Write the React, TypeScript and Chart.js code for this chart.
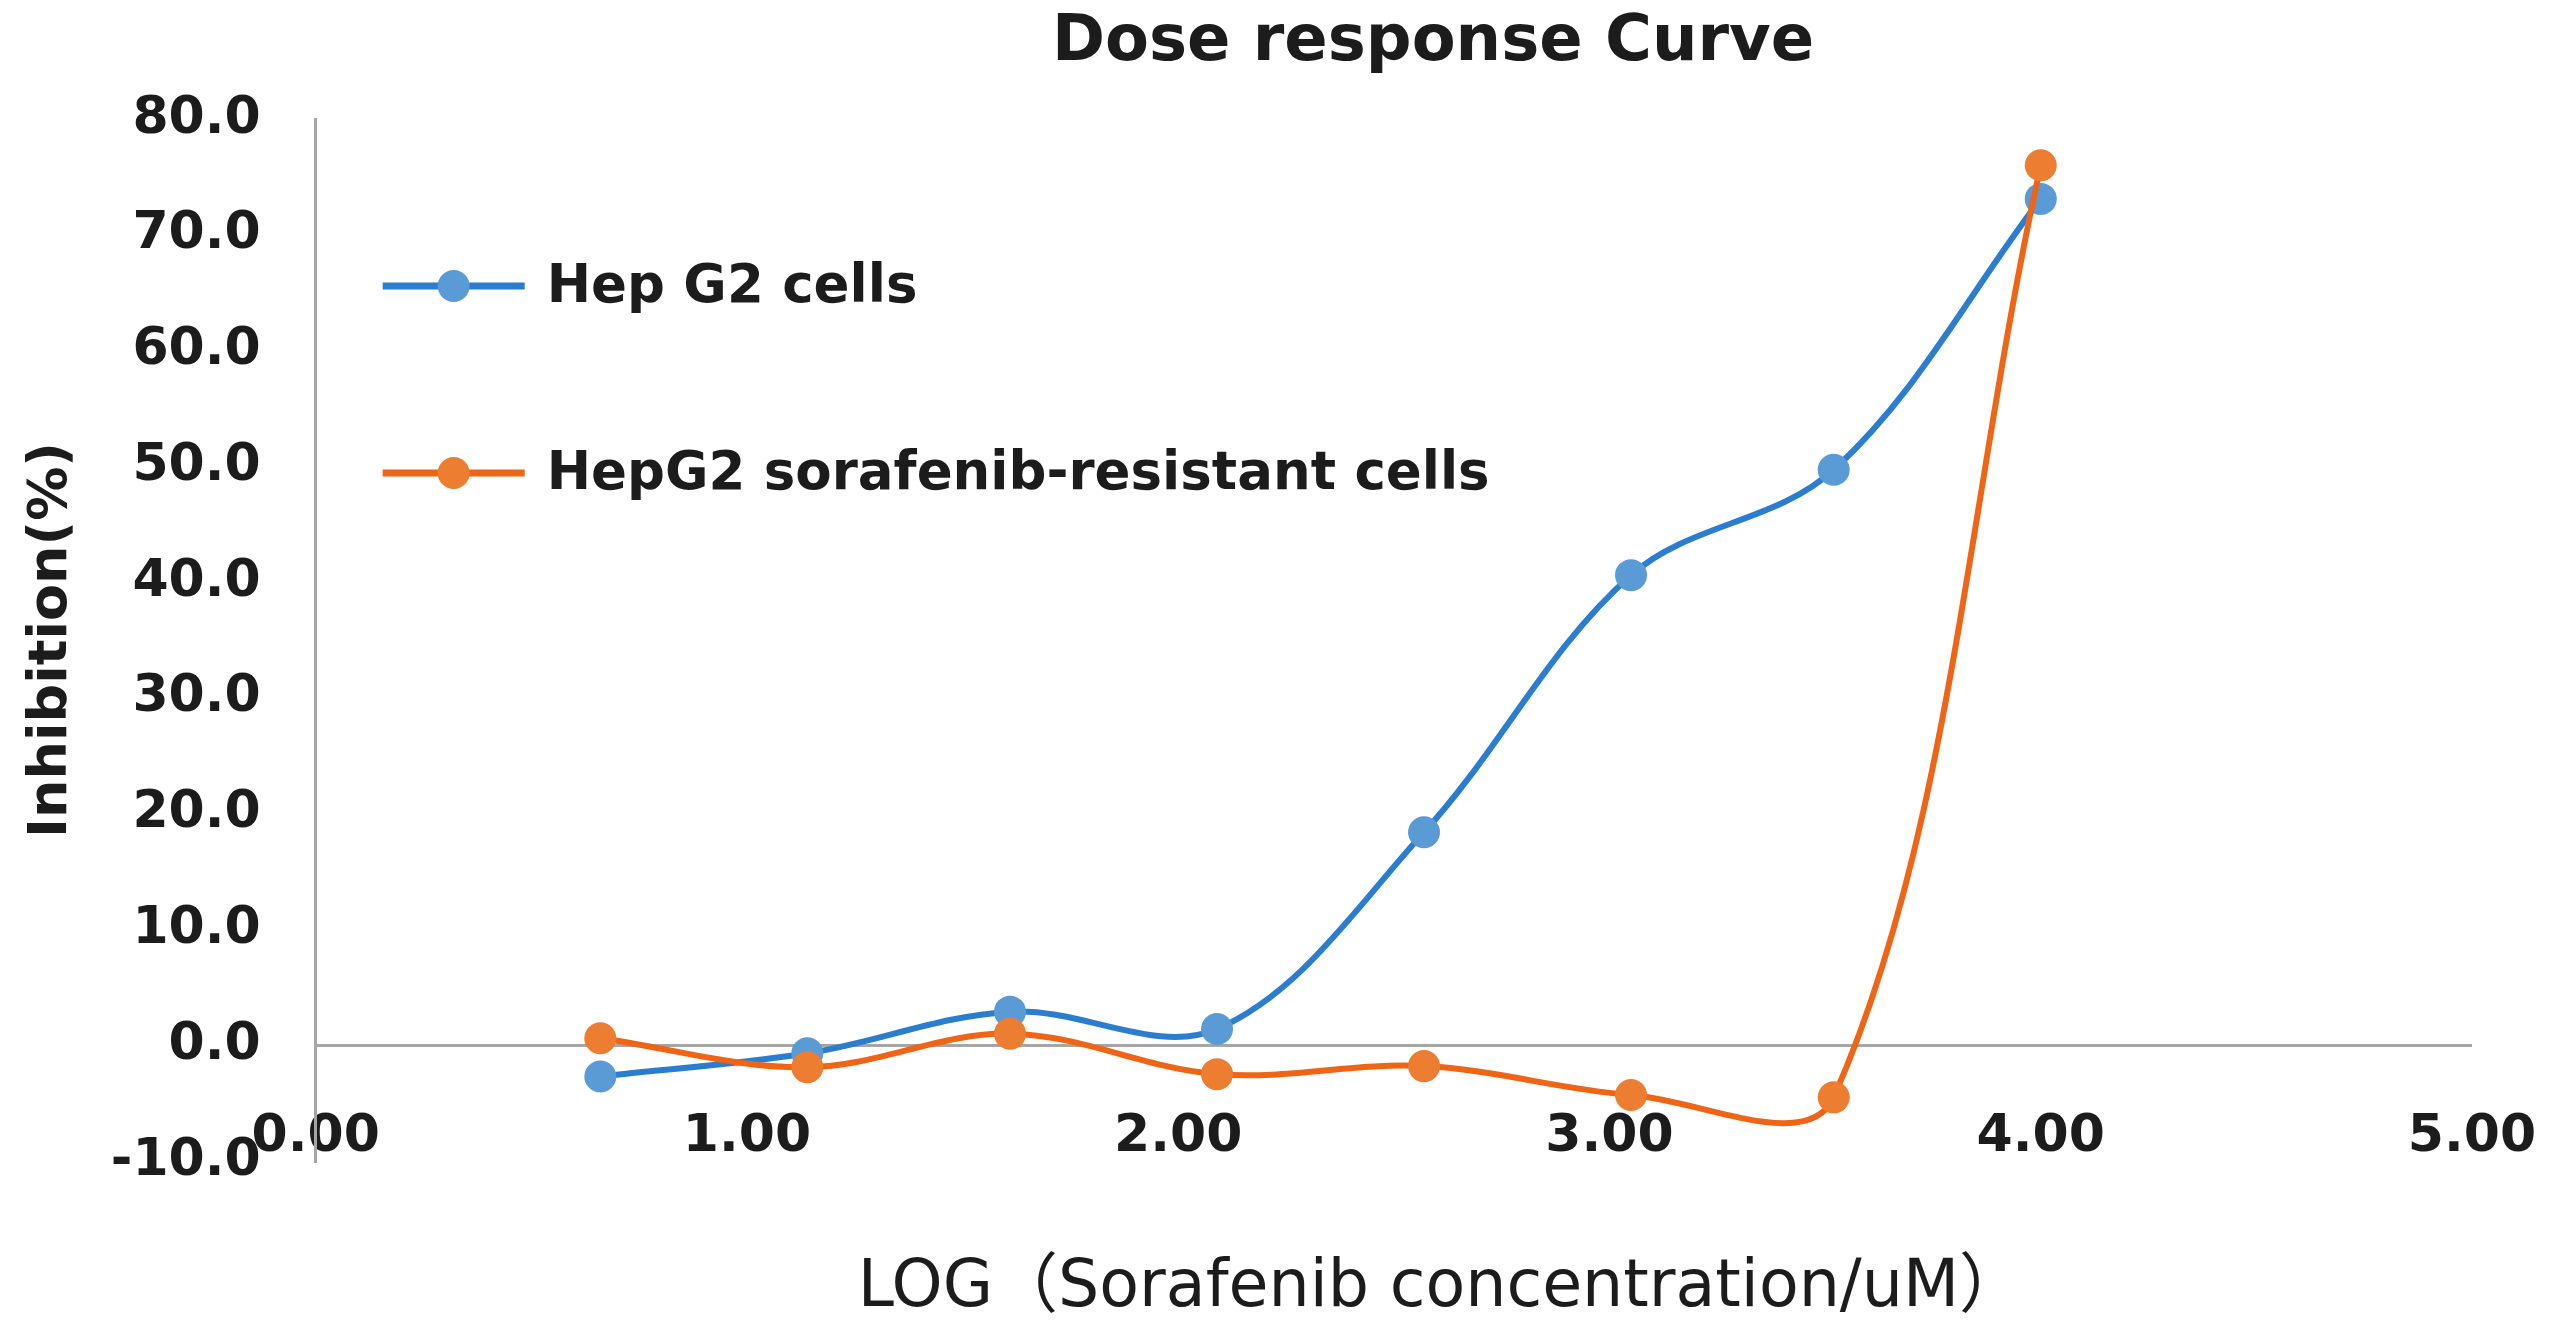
import { useEffect, useRef } from "react"
import { Chart, registerables } from "chart.js"

Chart.register(...registerables)

// log10 of sorafenib concentration (uM), one entry per dose
const logConc = [0.66, 1.14, 1.61, 2.09, 2.57, 3.05, 3.52, 4.0]
// inhibition (%) per dose
const hepG2 = [-2.7, -0.7, 2.9, 1.4, 18.4, 40.6, 49.7, 73.1]
const resistant = [0.6, -1.9, 1.0, -2.5, -1.8, -4.3, -4.5, 76.0]

const seriesNames = ["Hep G2 cells", "HepG2 sorafenib-resistant cells"]
const lineColors = ["#2B7DD0", "#EF6515"]
const markerColors = ["#5B9BD5", "#ED7D31"]

const FONT = "'DejaVu Sans', 'Noto Sans CJK SC', sans-serif"
const TEXT = "#1c1c1c"

// chart title, x-axis title and the in-plot legend, placed like the Excel original
const overlay = {
  id: "overlay",
  afterDatasetsDraw(chart: Chart) {
    const { ctx, chartArea } = chart
    ctx.save()
    ctx.fillStyle = TEXT
    ctx.textAlign = "center"
    ctx.textBaseline = "middle"
    ctx.font = `bold 64px ${FONT}`
    ctx.fillText("Dose response Curve", chart.width * 0.56, 43)

    ctx.font = `65px ${FONT}`
    const midX = (chartArea.left + chartArea.right) / 2
    ctx.fillText("LOG（Sorafenib concentration/uM）", midX + 47, chartArea.bottom + 128)

    const rows = [167, 354]
    seriesNames.forEach((name, i) => {
      const y = chartArea.top + rows[i]
      const x0 = chartArea.left + 67
      const x1 = chartArea.left + 209
      ctx.strokeStyle = lineColors[i]
      ctx.lineWidth = 7
      ctx.beginPath()
      ctx.moveTo(x0, y)
      ctx.lineTo(x1, y)
      ctx.stroke()
      ctx.fillStyle = markerColors[i]
      ctx.beginPath()
      ctx.arc((x0 + x1) / 2, y, 16, 0, Math.PI * 2)
      ctx.fill()
      ctx.fillStyle = TEXT
      ctx.font = `bold 53px ${FONT}`
      ctx.textAlign = "left"
      ctx.fillText(name, chartArea.left + 231, y + 2)
    })
    ctx.restore()
  },
}

export default function App() {
  const chartRef = useRef<HTMLCanvasElement>(null)
  const chartInstance = useRef<Chart | null>(null)

  useEffect(() => {
    document.body.style.margin = "0"
    if (!chartRef.current) return
    if (chartInstance.current) chartInstance.current.destroy()

    const ctx = chartRef.current.getContext("2d")
    if (!ctx) return

    const toPoints = (ys: number[]) => logConc.map((x, i) => ({ x, y: ys[i] }))

    chartInstance.current = new Chart(ctx, {
      type: "line",
      data: {
        datasets: [
          {
            label: seriesNames[0],
            data: toPoints(hepG2),
            borderColor: lineColors[0],
            backgroundColor: markerColors[0],
            pointBackgroundColor: markerColors[0],
            order: 2,
          },
          {
            label: seriesNames[1],
            data: toPoints(resistant),
            borderColor: lineColors[1],
            backgroundColor: markerColors[1],
            pointBackgroundColor: markerColors[1],
            order: 1,
          },
        ],
      },
      options: {
        responsive: true,
        maintainAspectRatio: false,
        animation: false,
        layout: { padding: { top: 119, left: 0, right: 87, bottom: 161 } },
        elements: {
          line: { borderWidth: 6, tension: 0.35, fill: false },
          point: { radius: 16, borderWidth: 0, hoverRadius: 16 },
        },
        plugins: {
          legend: { display: false },
          title: { display: false },
          tooltip: { enabled: false },
        },
        scales: {
          x: {
            type: "linear",
            min: 0,
            max: 5,
            grid: { display: false },
            border: { display: false },
            ticks: {
              stepSize: 1,
              mirror: true,
              padding: 0,
              maxRotation: 0,
              color: TEXT,
              font: { family: FONT, size: 52, weight: "bold", lineHeight: 0.89 },
              callback: (v) => Number(v).toFixed(2),
            },
          },
          y: {
            min: -10,
            max: 80,
            grid: {
              drawTicks: false,
              lineWidth: 3,
              color: (c) => (c.tick && c.tick.value === 0 ? "#a6a6a6" : "rgba(0,0,0,0)"),
            },
            border: { display: true, color: "#a6a6a6", width: 3 },
            ticks: {
              stepSize: 10,
              padding: 55,
              color: TEXT,
              font: { family: FONT, size: 52, weight: "bold" },
              callback: (v) => Number(v).toFixed(1),
            },
            title: {
              display: true,
              text: "Inhibition(%)",
              color: TEXT,
              font: { family: FONT, size: 54, weight: "bold" },
              padding: { top: 20, bottom: -29 },
            },
          },
        },
      },
      plugins: [overlay],
    })

    return () => {
      if (chartInstance.current) {
        chartInstance.current.destroy()
        chartInstance.current = null
      }
    }
  }, [])

  return (
    <div style={{ position: "fixed", inset: 0, background: "#fff" }}>
      <canvas ref={chartRef} />
    </div>
  )
}
